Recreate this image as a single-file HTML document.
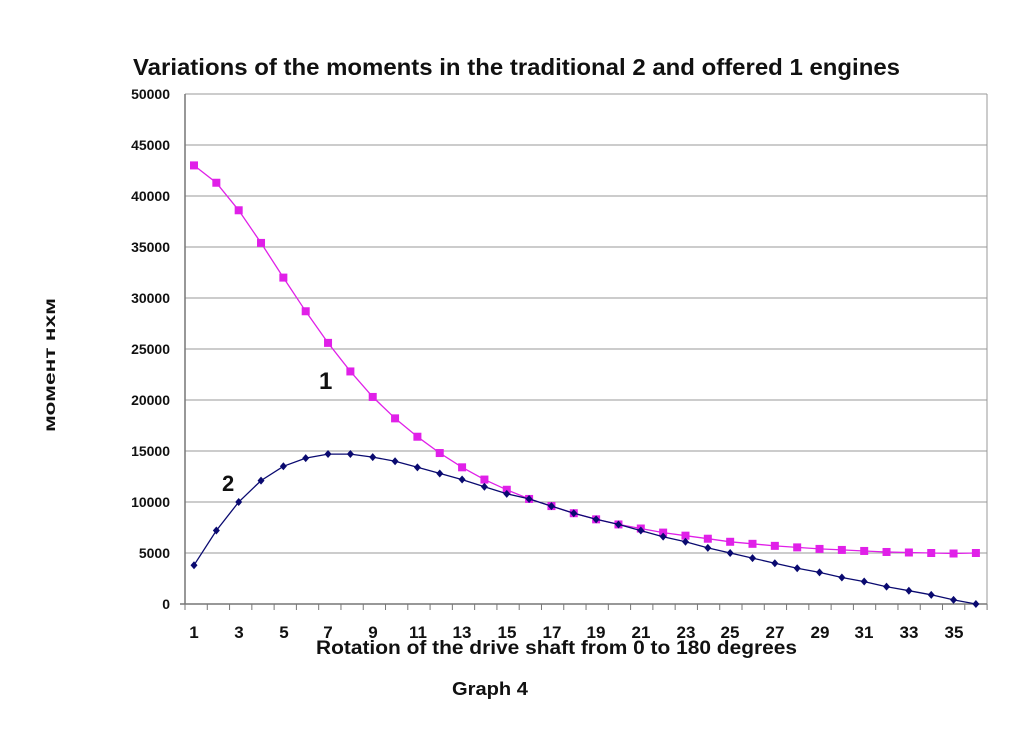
<!DOCTYPE html>
<html><head><meta charset="utf-8"><style>
body{margin:0;background:#fff;}
svg text{font-family:"Liberation Sans",sans-serif;font-weight:bold;fill:#111;}
</style></head><body>
<svg id="s" width="1024" height="745" viewBox="0 0 1024 745" xmlns="http://www.w3.org/2000/svg">
<text x="133" y="75" font-size="23" textLength="767" lengthAdjust="spacingAndGlyphs">Variations of  the moments in the traditional 2  and offered 1 engines</text>
<g stroke="#999" stroke-width="1">
<line x1="185" y1="94" x2="987" y2="94"/><line x1="185" y1="145" x2="987" y2="145"/>
<line x1="185" y1="196" x2="987" y2="196"/><line x1="185" y1="247" x2="987" y2="247"/>
<line x1="185" y1="298" x2="987" y2="298"/><line x1="185" y1="349" x2="987" y2="349"/>
<line x1="185" y1="400" x2="987" y2="400"/><line x1="185" y1="451" x2="987" y2="451"/>
<line x1="185" y1="502" x2="987" y2="502"/><line x1="185" y1="553" x2="987" y2="553"/>
<line x1="987" y1="94" x2="987" y2="604"/>
</g>
<g stroke="#777" stroke-width="1.5"><line x1="185" y1="94" x2="185" y2="604"/><line x1="180" y1="604" x2="987" y2="604"/></g>
<g id="ticks" stroke="#777" stroke-width="1"></g>
<g font-size="14" text-anchor="end">
<text x="170" y="99">50000</text><text x="170" y="150">45000</text><text x="170" y="201">40000</text>
<text x="170" y="252">35000</text><text x="170" y="303">30000</text><text x="170" y="354">25000</text>
<text x="170" y="405">20000</text><text x="170" y="456">15000</text><text x="170" y="507">10000</text>
<text x="170" y="558">5000</text><text x="170" y="609">0</text>
</g>
<g font-size="17" text-anchor="middle">
<text x="194" y="638">1</text><text x="239" y="638">3</text><text x="284" y="638">5</text><text x="328" y="638">7</text>
<text x="373" y="638">9</text><text x="418" y="638">11</text><text x="462" y="638">13</text><text x="507" y="638">15</text>
<text x="552" y="638">17</text><text x="596" y="638">19</text><text x="641" y="638">21</text><text x="686" y="638">23</text>
<text x="730" y="638">25</text><text x="775" y="638">27</text><text x="820" y="638">29</text><text x="864" y="638">31</text>
<text x="909" y="638">33</text><text x="954" y="638">35</text>
</g>
<text x="316" y="654" font-size="19" textLength="481" lengthAdjust="spacingAndGlyphs">Rotation of the drive shaft from 0 to 180 degrees</text>
<text x="452" y="695" font-size="18" textLength="76" lengthAdjust="spacingAndGlyphs">Graph 4</text>
<text transform="translate(55,365) rotate(-90)" font-size="16" text-anchor="middle" textLength="134" lengthAdjust="spacingAndGlyphs">момент нхм</text>
<text x="319" y="389" font-size="24">1</text>
<text x="222" y="491" font-size="22">2</text>
<g id="series"></g>
</svg>
<script>
var a=[43000,41300,38600,35400,32000,28700,25600,22800,20300,18200,16400,14800,13400,12200,11200,10300,9600,8900,8300,7800,7400,7000,6700,6400,6100,5900,5700,5550,5400,5300,5200,5100,5050,5000,4950,5000];
var b=[3800,7200,10000,12100,13500,14300,14700,14700,14400,14000,13400,12800,12200,11500,10800,10300,9600,8900,8300,7800,7200,6600,6100,5500,5000,4500,4000,3500,3100,2600,2200,1700,1300,900,400,0];
function X(i){return 194+i*22.34}function Y(v){return 604-v*0.0102}
var h='';
function ser(d,c,m){var p=d.map(function(v,i){return X(i).toFixed(1)+','+Y(v).toFixed(1)}).join(' ');
h+='<polyline points="'+p+'" fill="none" stroke="'+c+'" stroke-width="1.3"/>';
d.forEach(function(v,i){var x=X(i),y=Y(v);
if(m=='s')h+='<rect x="'+(x-4)+'" y="'+(y-4)+'" width="8" height="8" fill="'+c+'"/>';
else h+='<polygon points="'+x+','+(y-4)+' '+(x+3.5)+','+y+' '+x+','+(y+4)+' '+(x-3.5)+','+y+'" fill="'+c+'"/>';});}
ser(a,'#e020e8','s');ser(b,'#0a0a70','d');
document.getElementById('series').innerHTML=h;
var t='';for(var i=0;i<=36;i++){var x=185+i*22.28;t+='<line x1="'+x+'" y1="604" x2="'+x+'" y2="610"/>';}
document.getElementById('ticks').innerHTML=t;
</script>
</body></html>
